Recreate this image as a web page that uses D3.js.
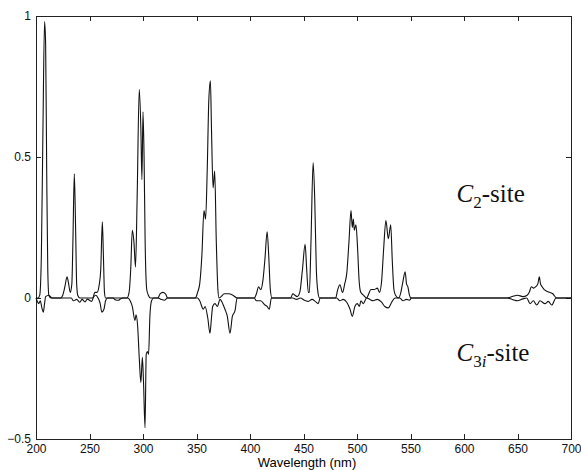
<!DOCTYPE html>
<html>
<head>
<meta charset="utf-8">
<title>C2 / C3i site spectra</title>
<style>
  body { margin: 0; background: #fff; }
  svg { display: block; }
  .axis path, .axis line { stroke: #222; shape-rendering: crispEdges; }
  .axis text { font-family: 'Liberation Sans', Arial, sans-serif; font-size: 12px; fill: #111; }
  .spec { fill: none; stroke: #111; stroke-width: 1.1px; stroke-linejoin: round; }
  .site { font-family: 'Liberation Serif', 'DejaVu Serif', serif; font-size: 25px; fill: #111; }
</style>
</head>
<body>
<div id="chart"></div>
<script src="https://d3js.org/d3.v7.min.js"></script>
<script>

// tick values
var xTicks = [200, 250, 300, 350, 400, 450, 500, 550, 600, 650, 700];
var yTicks = [-0.5, 0, 0.5, 1];
var yTickLabels = ["\u22120.5", "0", "0.5", "1"];

// C2-site spectrum (wavelength nm, intensity)
var c2Points = [
  [200,0],[202,0],[203.5,0.01],[205,0.15],[206.5,0.6],[208,0.98],[209,0.9],[210,0.45],[211,0.1],[212,0.01],[214,0],
  [223,0],[225,0.01],[227,0.04],[229,0.075],[230.5,0.05],[232,0.02],[233.5,0.05],[234.5,0.2],[235.8,0.44],[237,0.25],[238,0.05],[239,0.01],[241,0],
  [253,0],[255,0.02],[257,0.02],[259,0.045],[260.5,0.1],[262,0.27],[263,0.15],[264,0.02],[265,0],
  [285,0],[287,0.02],[288.5,0.1],[290,0.24],[291.5,0.2],[293,0.11],[294.5,0.35],[296.5,0.74],[298,0.6],[299,0.42],[300,0.66],[301,0.5],[302,0.2],[303.5,0.03],[305,0.01],[307,0],
  [314,0],[316,0.015],[318.5,0.02],[321,0.015],[323,0],
  [349,0],[351,0.02],[353,0.05],[355,0.15],[357,0.31],[358.5,0.28],[360,0.45],[361.5,0.7],[363,0.77],[364,0.6],[365.5,0.39],[367,0.45],[368.5,0.2],[370,0.03],[371,0],
  [373,0.005],[376,0.015],[380,0.015],[384,0.01],[388,0],
  [404,0],[406,0.015],[408,0.04],[410,0.03],[412,0.06],[414,0.14],[416,0.235],[417.5,0.15],[419,0.03],[420.5,0],
  [438,0],[440,0.015],[442,0.01],[444,0.005],[446.5,0.02],[449,0.1],[451.5,0.19],[453,0.1],[454.5,0.02],[455.5,0.02],[457,0.2],[459,0.48],[460.5,0.35],[462,0.1],[463.5,0.02],[465,0],
  [480,0],[482,0.03],[484,0.047],[486.5,0.02],[488.5,0.05],[490.5,0.09],[492.5,0.2],[494.4,0.31],[495.6,0.25],[496.6,0.28],[497.5,0.24],[499,0.26],[500.5,0.18],[502,0.06],[503.5,0.02],[506,0.01],[509,0],
  [511,0.015],[513,0.03],[516,0.03],[519,0.035],[521,0.02],[523,0.06],[525,0.18],[527,0.275],[529.3,0.21],[531.5,0.26],[533,0.13],[534.5,0.03],[536,0.01],[539,0],
  [541,0.02],[543,0.06],[545,0.093],[546.3,0.05],[547.5,0.04],[549,0.01],[550.5,0],
  [640,0],[645,0.005],[650,0.01],[655,0.005],[659,0.01],[661,0.02],[663,0.04],[665,0.035],[667,0.04],[669,0.05],[670.4,0.075],[671.5,0.05],[673,0.04],[675,0.03],[677,0.025],[680,0.02],[683,0.015],[686.5,0],[700,0]
];

// C3i-site spectrum, drawn below the axis
var c3iPoints = [
  [200,0],[201,-0.01],[202.5,-0.02],[204,-0.01],[205.5,-0.035],[206.8,-0.05],[208,-0.02],[209,0.005],[212,0.01],[215,0],
  [233,0],[235,-0.01],[238,-0.005],[241,-0.015],[243,-0.005],[245.8,-0.014],[248,-0.004],[250,-0.008],[252,-0.012],[254,0.005],[256,0.01],[258,0],[260,-0.02],[261.5,-0.05],[263.5,-0.04],[265,-0.01],[267,0],
  [272,0],[274,-0.006],[277,-0.008],[279,-0.003],[281,0],
  [286,0],[288,-0.01],[290,-0.03],[292.5,-0.08],[293.5,-0.06],[295,-0.1],[296.6,-0.22],[298,-0.3],[299.4,-0.21],[300.5,-0.3],[301.9,-0.46],[303,-0.2],[304.2,-0.19],[305.2,-0.2],[306.5,-0.06],[308,-0.01],[310,0],
  [314,0],[317,-0.005],[320,-0.008],[323,0],
  [351,0],[353,-0.01],[356.4,-0.04],[358,-0.03],[360.5,-0.07],[362.6,-0.125],[364,-0.07],[365.1,-0.03],[367.3,-0.02],[369.5,-0.03],[372,-0.005],[374.5,-0.02],[376.6,-0.04],[378.8,-0.065],[381.3,-0.125],[383.5,-0.065],[386,-0.045],[388,0],
  [404,0],[406,-0.01],[410,-0.01],[414,-0.025],[416,-0.03],[418,-0.04],[420,0],
  [440,0],[443.5,-0.005],[447,0],[451,-0.008],[454.5,-0.012],[458,-0.005],[461,-0.012],[463.8,-0.02],[465.5,0],
  [481,0],[484,-0.01],[487,-0.005],[490.4,-0.015],[493.5,-0.04],[495.6,-0.065],[498,-0.03],[500.3,-0.02],[502.2,-0.03],[503.7,-0.01],[505.9,-0.02],[509,0],
  [512,-0.005],[515,-0.01],[519,-0.005],[523,-0.015],[526,-0.03],[529.3,-0.035],[532.4,-0.015],[535.5,0],
  [540,0],[543,-0.01],[546,-0.005],[549,-0.008],[551,0],
  [640,0],[645,-0.005],[650,-0.01],[655,-0.003],[658.6,0],[661.7,-0.02],[664.8,-0.01],[668,-0.025],[671,-0.01],[675.7,-0.02],[678.8,-0.012],[682,-0.025],[686,0],[700,0]
];

var margin = {top: 16, right: 10, bottom: 31, left: 36},
    width  = 581 - margin.left - margin.right,
    height = 470 - margin.top - margin.bottom;

var x = d3.scaleLinear().domain([200, 700]).range([0, width]);
var y = d3.scaleLinear().domain([-0.5, 1]).range([height, 0]);

var svg = d3.select("#chart")
    .append("svg")
    .attr("width", 581)
    .attr("height", 470);

var chart = svg.append("g")
    .attr("transform", "translate(" + margin.left + "," + margin.top + ")");

// axes, ticks pointing inwards on all four sides
chart.append("g")
    .attr("class", "axis")
    .attr("transform", "translate(0," + height + ")")
    .call(d3.axisBottom(x).tickValues(xTicks).tickSizeInner(-5).tickSizeOuter(0).tickPadding(5));

chart.append("g")
    .attr("class", "axis")
    .call(d3.axisTop(x).tickValues(xTicks).tickSizeInner(-5).tickSizeOuter(0).tickFormat(""));

chart.append("g")
    .attr("class", "axis")
    .call(d3.axisLeft(y).tickValues(yTicks).tickSizeInner(-5).tickSizeOuter(0).tickPadding(5)
      .tickFormat(function(d, i) { return yTickLabels[i]; }));

chart.append("g")
    .attr("class", "axis")
    .attr("transform", "translate(" + width + ",0)")
    .call(d3.axisRight(y).tickValues(yTicks).tickSizeInner(-5).tickSizeOuter(0).tickFormat(""));

svg.append("text")
    .attr("x", 307)
    .attr("y", 467)
    .attr("text-anchor", "middle")
    .style("font-family", "'Liberation Sans', Arial, sans-serif")
    .style("font-size", "13px")
    .text("Wavelength (nm)");

var line = d3.line()
    .x(function(d) { return x(d[0]); })
    .y(function(d) { return y(d[1]); })
    .curve(d3.curveMonotoneX);

chart.append("path").datum(c3iPoints).attr("class", "spec").attr("d", line);
chart.append("path").datum(c2Points).attr("class", "spec").attr("d", line);

// site labels
var t1 = chart.append("text").attr("class", "site")
    .attr("x", x(593)).attr("y", y(0.34));
t1.append("tspan").style("font-style", "italic").text("C");
t1.append("tspan").attr("dy", 6).style("font-size", "17px").text("2");
t1.append("tspan").attr("dy", -6).text("-site");

var t2 = chart.append("text").attr("class", "site")
    .attr("x", x(593)).attr("y", y(-0.225));
t2.append("tspan").style("font-style", "italic").text("C");
t2.append("tspan").attr("dy", 6).style("font-size", "17px").text("3");
t2.append("tspan").style("font-size", "17px").style("font-style", "italic").text("i");
t2.append("tspan").attr("dy", -6).text("-site");

</script>
</body>
</html>
